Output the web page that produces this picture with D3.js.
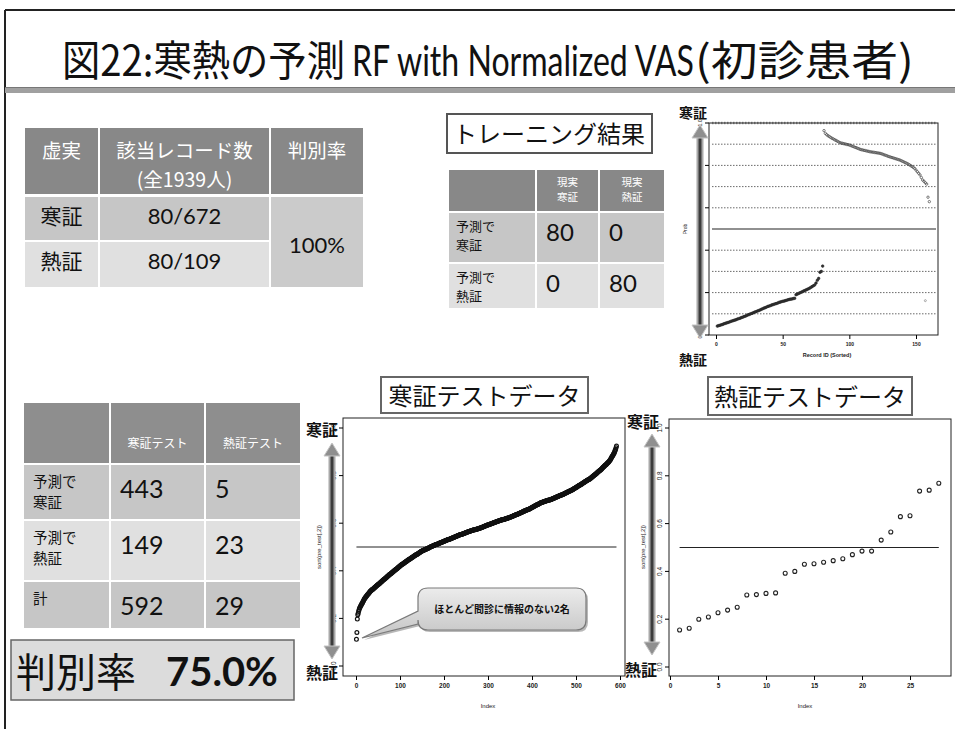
<!DOCTYPE html>
<html><head><meta charset="utf-8">
<script src="https://cdn.jsdelivr.net/npm/d3@7"></script>
<style>body{margin:0;background:#fff}svg{display:block}</style>
</head><body>
<svg id="c" width="955" height="729"></svg>
<script>
// ---------------- DATA ----------------
const titleParts = ["図22:寒熱の予測", "RF with Normalized VAS", "(初診患者)"];

const t1Header = [["虚実"], ["該当レコード数", "(全1939人)"], ["判別率"]];
const t1RowLabels = ["寒証", "熱証"];
const t1Counts = ["80/672", "80/109"];
const t1Rate = "100%";

const trainTitle = "トレーニング結果";
const trainHeader = [["現実", "寒証"], ["現実", "熱証"]];
const trainRowLabels = [["予測で", "寒証"], ["予測で", "熱証"]];
const trainCounts = [[80, 0], [0, 80]];

const testHeader = ["寒証テスト", "熱証テスト"];
const testRowLabels = [["予測で", "寒証"], ["予測で", "熱証"], ["計"]];
const testCounts = [[443, 5], [149, 23], [592, 29]];
const accuracyLabel = "判別率";
const accuracyValue = "75.0%";

const coldTitle = "寒証テストデータ";
const hotTitle = "熱証テストデータ";
const calloutText = "ほとんど問診に情報のない2名";
const topLabel = "寒証";
const bottomLabel = "熱証";

// training scatter (Record ID sorted)
const trainLow = [.042,.044,.046,.048,.050,.053,.055,.057,.059,.061,.064,.066,.068,.070,.072,.075,.077,.079,
  .082,.084,.087,.089,.092,.095,.097,.100,.102,.105,.108,.110,.113,.115,.118,
  .121,.124,.127,.129,.132,.135,.137,
  .139,.142,.144,.146,.148,.150,.153,.155,.157,
  .159,.160,.162,.164,.166,.168,.169,.170,.172,.173,
  .190,.193,.196,.199,.202,.205,.208,.211,.214,.217,.220,.224,.228,.232,.236,
  .245,.258,.267,.296,.300,.325];
const trainHigh = [.964,.951,.945,.940,.936,.932,
  .928,.925,.921,.918,.914,.911,.907,
  .905,.904,.902,.901,.899,.898,.896,
  .894,.891,.889,.886,.884,.881,.879,.876,
  .874,.873,.871,.870,.868,.867,.865,
  .864,.863,.862,.861,.860,.859,.858,.857,
  .855,.853,.850,.848,.846,.843,.841,
  .839,.837,.835,.833,.831,.829,.827,.825,
  .822,.819,.816,.813,.810,.807,
  .803,.799,.795,.790,.786,
  .778,.770,.763,.755,
  .743,.731,.725,.718,.712,
  .650,.629];
const trainOutlierId = [157];
const trainOutlierProb = [.162];
const trainXTicks = [0, 50, 100, 150];
const probTicks = [0, 0.2, 0.4, 0.6, 0.8, 1.0];
const gridLevels = [0.1, 0.2, 0.3, 0.4, 0.6, 0.7, 0.8, 0.9, 1.0];
const threshold = 0.5;

// cold (寒証) test data, sorted predicted values
const coldTest = [.112,.141,.197,.215,.222,.230,.236,.243,
.246,.250,.253,.257,.260,.264,.267,.271,.274,.278,.281,.285,
.287,.290,.292,.294,.297,.299,.301,.304,.306,.308,.311,.313,
.315,.316,.318,.320,.321,.323,.324,.326,.328,.329,.331,.332,.334,.336,.337,.339,.340,.342,.344,.345,.347,.348,.350,
.352,.353,.355,.356,.358,.360,.361,.363,.364,.366,.368,.369,.371,.372,.374,.376,.377,.379,.380,.382,.384,.385,.387,
.388,.390,.391,.393,.394,.396,.397,.399,.400,.402,.403,.405,.406,.408,.409,.411,.413,.414,.416,.417,.419,.420,.422,
.423,.425,.426,.427,.429,.430,.431,.433,.434,.435,.437,.438,.439,.440,.442,.443,.444,.446,.447,.448,.450,.451,.452,
.453,.455,.456,.457,.458,.459,.461,.462,.463,.464,.465,.467,.468,.469,.470,.471,.473,.474,.475,.476,.477,.479,.480,
.481,.482,.483,.484,.485,.486,.486,.487,.488,.489,.490,.491,.492,.493,.494,.495,.495,.496,.497,.498,.499,.500,
.501,.502,.502,.503,.504,.505,.506,.506,.507,.508,.509,.509,.510,.511,.512,.513,.513,.514,.515,.516,.517,.517,.518,
.519,.519,.520,.521,.522,.522,.523,.524,.525,.525,.526,.527,.528,.528,.529,.530,.531,.531,.532,.533,.534,.534,.535,
.536,.537,.537,.538,.539,.540,.540,.541,.542,.543,.543,.544,.545,.546,.546,.547,.548,.549,.549,.550,.551,.552,.552,
.553,.554,.554,.555,.556,.556,.557,.558,.558,.559,.560,.561,.561,.562,.563,.563,.564,.565,.565,.566,.566,.567,
.568,.568,.569,.569,.570,.571,.571,.572,.572,.573,.573,.574,.575,.575,.576,.576,.577,.577,.578,.579,.579,.580,.580,
.581,.582,.582,.583,.584,.585,.585,.586,.587,.588,.588,.589,.590,.591,.591,.592,.593,.594,.594,.595,.596,.597,.597,
.598,.599,.599,.600,.601,.601,.602,.603,.603,.604,.605,.605,.606,.607,.607,.608,.609,.609,.610,.610,.611,.612,.612,
.613,.614,.614,.615,.615,.616,.616,.617,.618,.618,.619,.619,.620,.621,.621,.622,.622,.623,.623,.624,.625,.625,.626,
.627,.628,.628,.629,.630,.631,.632,.632,.633,.634,.635,.636,.637,.637,.638,.639,.640,.641,.641,.642,.643,.644,
.645,.645,.646,.647,.648,.649,.650,.650,.651,.652,.653,.654,.654,.655,.656,.657,.658,.659,.659,.660,.661,.662,.663,
.664,.665,.666,.667,.668,.669,.670,.671,.672,.673,.674,.675,.676,.677,.678,.679,.680,.681,.682,.683,.684,.685,.686,
.687,.687,.688,.688,.689,.690,.690,.691,.692,.692,.693,.693,.694,.695,.695,.696,.696,.697,.698,.698,.699,.699,.700,
.701,.702,.702,.703,.704,.705,.705,.706,.707,.708,.709,.709,.710,.711,.712,.712,.713,.714,.715,.716,.716,.717,.718,
.719,.720,.720,.721,.722,.723,.724,.725,.726,.727,.727,.728,.729,.730,.731,.732,.733,.734,.734,.735,.736,.737,.738,
.739,.740,.741,.742,.744,.745,.746,.747,.748,.749,.750,.751,.752,.754,.755,.756,.757,.758,.759,.760,.762,.763,
.764,.765,.767,.768,.769,.770,.771,.772,.774,.775,.776,.777,.778,.779,.781,.782,.783,.784,.785,.786,.788,.789,.790,
.792,.793,.795,.796,.798,.799,.801,.803,.804,.806,.807,.809,.810,.812,.814,.815,.817,.818,.820,.821,.823,.825,.826,
.828,.830,.832,.834,.836,.837,.839,.841,.843,.845,.846,.848,.850,.852,.854,.855,.857,.859,.861,
.864,.867,.870,.874,.877,.880,.883,.886,.890,.893,.896,
.901,.906,.911,.917,.924];
const coldXTicks = [0, 100, 200, 300, 400, 500, 600];

// hot (熱証) test data, sorted predicted values
const hotTest = [.155,.162,.200,.209,.227,.238,.250,.301,.303,.308,.310,.392,.400,.430,.432,.438,.445,.453,.470,.485,.485,.531,.565,.629,.633,.736,.740,.769];
const hotXTicks = [0, 5, 10, 15, 20, 25];

const yAxisName = "sort(pre_test[,2])";
const xAxisName = "Index";
const trainYName = "Prob";
const trainXName = "Record ID (Sorted)";

// ---------------- DRAW ----------------
const svg = d3.select("#c");
const CJK = "'Noto Sans CJK JP', sans-serif";
const LAT = "Lato, 'Open Sans', sans-serif";
const AX = "'Liberation Sans', Arial, sans-serif";

// slide frame
svg.append("line").attr("x1", 5).attr("y1", 10).attr("x2", 955).attr("y2", 10).attr("stroke", "#222").attr("stroke-width", 2);
svg.append("line").attr("x1", 5).attr("y1", 10).attr("x2", 5).attr("y2", 729).attr("stroke", "#222").attr("stroke-width", 2);

// title (each part horizontally scaled to its slot)
const titleGeom = [[62, 283, CJK], [352, 342, LAT], [695, 219, CJK]];
titleParts.forEach((t, i) => {
  const el = svg.append("text").attr("font-family", titleGeom[i][2]).attr("font-size", 42).attr("fill", "#111").text(t);
  const w = el.node().getComputedTextLength();
  el.attr("transform", `translate(${titleGeom[i][0]},76) scale(${titleGeom[i][1] / w},1)`);
});
svg.append("rect").attr("x", 5).attr("y", 87).attr("width", 950).attr("height", 6).attr("fill", "#a0a0a0");
svg.append("line").attr("x1", 5).attr("x2", 955).attr("y1", 87.5).attr("y2", 87.5).attr("stroke", "#777");

function cell(x, y, w, h, fill) {
  svg.append("rect").attr("x", x).attr("y", y).attr("width", w).attr("height", h).attr("fill", fill);
}
function txt(x, y, s, size, opt = {}) {
  return svg.append("text").attr("x", x).attr("y", y).text(s)
    .attr("font-size", size).attr("font-family", opt.font || CJK)
    .attr("fill", opt.fill || "#111").attr("text-anchor", opt.anchor || "start")
    .attr("font-weight", opt.weight || "normal");
}
function mtxt(x, y, lines, size, lh, opt = {}) {
  lines.forEach((l, j) => txt(x, y + j * lh, l, size, opt));
}
const HDR = "#888888", R1 = "#c6c6c6", R2 = "#e0e0e0";

// ---- table 1 ----
const t1x = [25, 100, 271], t1w = [73, 169, 92];
t1Header.forEach((lines, i) => {
  cell(t1x[i], 128, t1w[i], 66, HDR);
  mtxt(t1x[i] + t1w[i] / 2, 158, lines, 19.5, 28.5, { fill: "#fff", anchor: "middle" });
});
t1RowLabels.forEach((lab, r) => {
  const y = r === 0 ? 197 : 242, h = r === 0 ? 43 : 45, f = r === 0 ? R1 : R2;
  cell(t1x[0], y, t1w[0], h, f);
  cell(t1x[1], y, t1w[1], h, f);
  txt(t1x[0] + t1w[0] / 2, y + 27, lab, 21, { anchor: "middle" });
  txt(t1x[1] + t1w[1] / 2, y + 27, t1Counts[r], 22, { anchor: "middle", font: LAT });
});
cell(t1x[2], 197, t1w[2], 90, "#cbcbcb");
txt(t1x[2] + t1w[2] / 2, 253, t1Rate, 22, { anchor: "middle", font: LAT });

// ---- training result ----
svg.append("rect").attr("x", 447).attr("y", 114).attr("width", 205).attr("height", 39)
  .attr("fill", "#fff").attr("stroke", "#555").attr("stroke-width", 2);
txt(549, 143, trainTitle, 24, { anchor: "middle" });
const trx = [449, 537, 600], trw = [86, 61, 64];
cell(trx[0], 170, trw[0], 41, HDR);
trainHeader.forEach((lines, i) => {
  cell(trx[i + 1], 170, trw[i + 1], 41, HDR);
  mtxt(trx[i + 1] + trw[i + 1] / 2, 186, lines, 10.5, 15.4, { fill: "#fff", anchor: "middle" });
});
trainRowLabels.forEach((lines, r) => {
  const y = r === 0 ? 213 : 264, h = r === 0 ? 49 : 44, f = r === 0 ? R1 : R2;
  [0, 1, 2].forEach(c => cell(trx[c], y, trw[c], h, f));
  mtxt(456, y + 18, lines, 13, 19.2);
  trainCounts[r].forEach((v, c) => txt(trx[c + 1] + 9, y + 28, v, 24, { font: LAT }));
});

// ---- test table ----
const tsx = [24, 111, 206], tsw = [85, 93, 94];
[0, 1, 2].forEach(c => cell(tsx[c], 403, tsw[c], 60, "#8e8e8e"));
testHeader.forEach((h, i) => txt(tsx[i + 1] + tsw[i + 1] / 2, 448, h, 12, { fill: "#fff", anchor: "middle" }));
const rowY = [465, 521, 582], rowH = [54, 59, 46], rowF = [R1, R2, R1];
testRowLabels.forEach((lines, r) => {
  [0, 1, 2].forEach(c => cell(tsx[c], rowY[r], tsw[c], rowH[r], rowF[r]));
  mtxt(33, rowY[r] + 22, lines, 14.5, 21.2);
  testCounts[r].forEach((v, c) => txt(tsx[c + 1] + 9, rowY[r] + 33, v, 25, { font: LAT }));
});

// accuracy box
svg.append("rect").attr("x", 11).attr("y", 640).attr("width", 283).attr("height", 60)
  .attr("fill", "#dcdcdc").attr("stroke", "#666").attr("stroke-width", 1.5);
txt(16, 687, accuracyLabel, 40);
txt(166, 686, accuracyValue, 40, { font: LAT, weight: "bold" });

// ---- arrows ----
function arrow(x, y1, y2) {
  const hw = 8, hh = 13;
  svg.append("rect").attr("x", x - 3.5).attr("y", y1 + hh - 1).attr("width", 7).attr("height", y2 - y1 - 2 * hh + 2).attr("fill", "#a8a8a8");
  svg.append("rect").attr("x", x - 1.5).attr("y", y1 + hh - 1).attr("width", 3).attr("height", y2 - y1 - 2 * hh + 2).attr("fill", "#3c3c3c");
  svg.append("path").attr("d", `M${x},${y1} L${x + hw},${y1 + hh} L${x - hw},${y1 + hh} Z`).attr("fill", "#8f8f8f").attr("stroke", "#c4c4c4");
  svg.append("path").attr("d", `M${x},${y2} L${x + hw},${y2 - hh} L${x - hw},${y2 - hh} Z`).attr("fill", "#8f8f8f").attr("stroke", "#c4c4c4");
}

function rotLabel(x, y, s, size) {
  svg.append("text").attr("transform", `translate(${x},${y}) rotate(-90)`).attr("text-anchor", "middle")
    .attr("font-family", AX).attr("font-size", size).attr("fill", "#222").text(s);
}

function plotAxes(x, y, box, xticks, yticks, fs, fmtY) {
  svg.append("rect").attr("x", box[0]).attr("y", box[1]).attr("width", box[2] - box[0]).attr("height", box[3] - box[1])
    .attr("fill", "none").attr("stroke", "#222").attr("stroke-width", 1);
  const gx = svg.append("g").attr("transform", `translate(0,${box[3]})`)
    .call(d3.axisBottom(x).tickValues(xticks).tickSize(4).tickPadding(3).tickFormat(d3.format("d")));
  gx.select(".domain").remove();
  gx.selectAll("text").attr("font-size", fs).attr("font-family", AX).attr("font-weight", "bold").attr("fill", "#222");
  const gy = svg.append("g").attr("transform", `translate(${box[0]},0)`)
    .call(d3.axisLeft(y).tickValues(yticks).tickSize(4).tickFormat(fmtY));
  gy.select(".domain").remove();
  gy.selectAll("text").attr("font-size", fs).attr("font-family", AX).attr("fill", "#222")
    .attr("text-anchor", "middle").attr("transform", "rotate(-90)")
    .attr("x", d => -y(d)).attr("y", -7).attr("dy", 0);
  gy.selectAll(".tick").attr("transform", null);
  gy.selectAll(".tick line").attr("y1", d => y(d)).attr("y2", d => y(d));
}

// ---- training scatter ----
{
  const x = d3.scaleLinear().domain([0, 150]).range([716, 916]);
  const y = d3.scaleLinear().domain([0, 1]).range([335, 123]);
  const box = [709, 123, 938, 335];
  gridLevels.forEach(g => svg.append("line").attr("x1", 712).attr("x2", 936).attr("y1", y(g)).attr("y2", y(g))
    .attr("stroke", g === 1 ? "#999" : "#444").attr("stroke-width", g === 1 ? 2.5 : 0.8).attr("stroke-dasharray", "1.5,1.5"));
  svg.append("line").attr("x1", 712).attr("x2", 936).attr("y1", y(threshold)).attr("y2", y(threshold)).attr("stroke", "#222").attr("stroke-width", 1.2);
  plotAxes(x, y, box, trainXTicks, probTicks, 5, d3.format(".1f"));
  svg.append("g").selectAll("circle").data(trainLow).join("circle")
    .attr("cx", (d, i) => x(i + 1)).attr("cy", d => y(d)).attr("r", 1.3)
    .attr("fill", "#333").attr("stroke", "#222").attr("stroke-width", 0.6);
  svg.append("g").selectAll("circle").data(trainHigh).join("circle")
    .attr("cx", (d, i) => x(i + 1 + trainLow.length)).attr("cy", d => y(d)).attr("r", 1.2)
    .attr("fill", "none").attr("stroke", "#444").attr("stroke-width", 0.7);
  svg.append("g").selectAll("circle").data(trainOutlierProb).join("circle")
    .attr("cx", (d, i) => x(trainOutlierId[i])).attr("cy", d => y(d)).attr("r", 1)
    .attr("fill", "none").attr("stroke", "#777").attr("stroke-width", 0.6);
  rotLabel(687, 229, trainYName, 5);
  svg.append("text").attr("x", 827).attr("y", 357).attr("text-anchor", "middle").attr("font-family", AX)
    .attr("font-size", 5.5).attr("font-weight", "bold").attr("fill", "#222").text(trainXName);
  arrow(700, 125, 338);
  txt(693, 118, topLabel, 14, { anchor: "middle", weight: "bold" });
  txt(693, 365, bottomLabel, 14, { anchor: "middle", weight: "bold" });
}

// ---- cold test plot ----
{
  svg.append("rect").attr("x", 381).attr("y", 377).attr("width", 207).attr("height", 36)
    .attr("fill", "#fff").attr("stroke", "#666").attr("stroke-width", 2);
  txt(484.5, 405, coldTitle, 24, { anchor: "middle" });
  const x = d3.scaleLinear().domain([0, 600]).range([356, 620]);
  const y = d3.scaleLinear().domain([0, 1]).range([666, 428]);
  const box = [343, 418, 625, 676];
  plotAxes(x, y, box, coldXTicks, probTicks, 6.5, d3.format(".1f"));
  svg.append("line").attr("x1", x(1)).attr("x2", x(coldTest.length)).attr("y1", y(threshold)).attr("y2", y(threshold))
    .attr("stroke", "#222").attr("stroke-width", 1);
  svg.append("g").selectAll("circle").data(coldTest).join("circle")
    .attr("cx", (d, i) => x(i + 1)).attr("cy", d => y(d)).attr("r", 1.9)
    .attr("fill", "none").attr("stroke", "#111").attr("stroke-width", 1.2);
  svg.append("text").attr("x", 488).attr("y", 708).attr("text-anchor", "middle").attr("font-family", AX)
    .attr("font-size", 6).attr("fill", "#222").text(xAxisName);
  rotLabel(321, 547, yAxisName, 6);
  arrow(332, 443, 659);
  txt(322, 436, topLabel, 16, { anchor: "middle", weight: "bold" });
  txt(322, 679, bottomLabel, 16, { anchor: "middle", weight: "bold" });

  // callout
  const p = "M428,588 H576 Q586,588 586,598 V620 Q586,630 576,630 H428 Q418,630 418,620 V624 L362,638 L418,611 V598 Q418,588 428,588 Z";
  const defs = svg.append("defs");
  const lg = defs.append("linearGradient").attr("id", "cg").attr("x1", 0).attr("y1", 0).attr("x2", 0).attr("y2", 1);
  lg.append("stop").attr("offset", "0%").attr("stop-color", "#ececec");
  lg.append("stop").attr("offset", "100%").attr("stop-color", "#c4c4c4");
  svg.append("path").attr("d", p).attr("fill", "#888").attr("opacity", 0.6).attr("transform", "translate(2,2)");
  svg.append("path").attr("d", p).attr("fill", "url(#cg)").attr("stroke", "#7a7a7a").attr("stroke-width", 1.2);
  txt(502, 613, calloutText, 10, { anchor: "middle", weight: "bold" });
}

// ---- hot test plot ----
{
  svg.append("rect").attr("x", 708).attr("y", 377).attr("width", 204).attr("height", 38)
    .attr("fill", "#fff").attr("stroke", "#666").attr("stroke-width", 2);
  txt(810, 406, hotTitle, 24, { anchor: "middle" });
  const x = d3.scaleLinear().domain([0, 25]).range([670, 910]);
  const y = d3.scaleLinear().domain([0, 1]).range([667, 428]);
  const box = [669, 419, 951, 676];
  plotAxes(x, y, box, hotXTicks, probTicks, 6.5, d3.format(".1f"));
  svg.append("line").attr("x1", x(1)).attr("x2", x(hotTest.length)).attr("y1", y(threshold)).attr("y2", y(threshold))
    .attr("stroke", "#222").attr("stroke-width", 1);
  svg.append("g").selectAll("circle").data(hotTest).join("circle")
    .attr("cx", (d, i) => x(i + 1)).attr("cy", d => y(d)).attr("r", 2)
    .attr("fill", "none").attr("stroke", "#222").attr("stroke-width", 1.1);
  svg.append("text").attr("x", 805).attr("y", 708).attr("text-anchor", "middle").attr("font-family", AX)
    .attr("font-size", 6).attr("fill", "#222").text(xAxisName);
  rotLabel(645, 547, yAxisName, 6);
  arrow(652, 434, 655);
  txt(643, 428, topLabel, 16, { anchor: "middle", weight: "bold" });
  txt(641, 676, bottomLabel, 16, { anchor: "middle", weight: "bold" });
}
</script>
</body></html>
